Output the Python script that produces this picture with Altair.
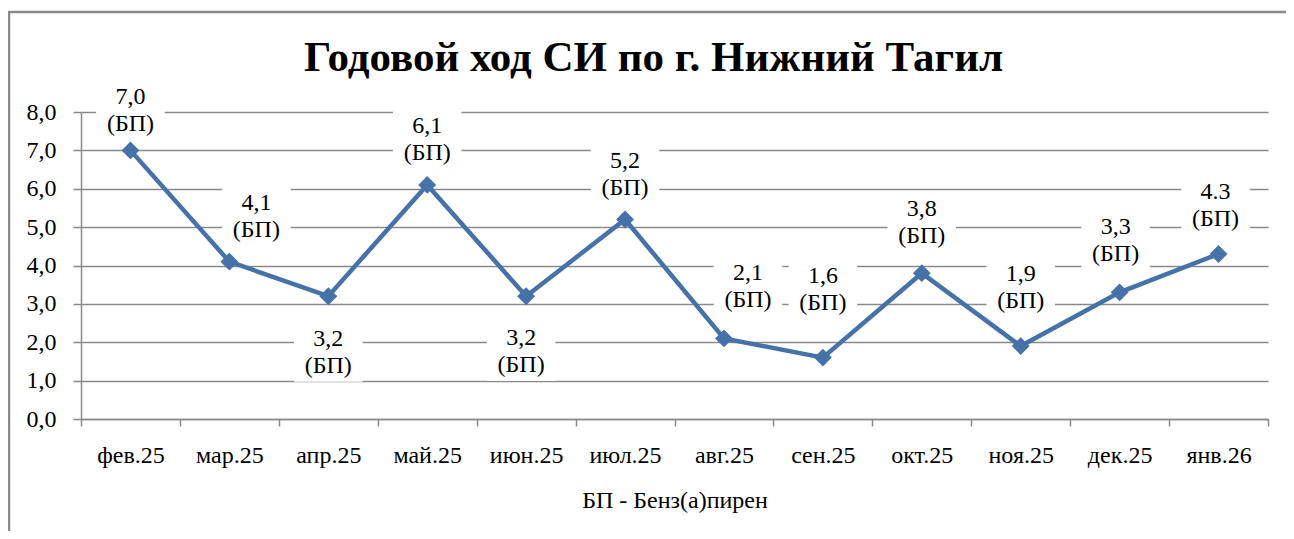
import altair as alt
import pandas as pd

# ---- data ----
months = ["фев.25", "мар.25", "апр.25", "май.25", "июн.25", "июл.25",
          "авг.25", "сен.25", "окт.25", "ноя.25", "дек.25", "янв.26"]
values = [7.0, 4.1, 3.2, 6.1, 3.2, 5.2, 2.1, 1.6, 3.8, 1.9, 3.3, 4.3]
value_labels = ["7,0", "4,1", "3,2", "6,1", "3,2", "5,2",
                "2,1", "1,6", "3,8", "1,9", "3,3", "4.3"]
substance = "БП"
y_ticks = [0, 1, 2, 3, 4, 5, 6, 7, 8]

# ---- label placement (style: pixel offsets of each label from its point) ----
label_dx = [0, 27, 0, 0, -5, 0, 24, 0, 0, 0, -4, -3]
label_dy = [-40, -45, 56, -45, 55, -45, -52, -68, -51, -59, -52, -48]

df = pd.DataFrame({
    "month": months,
    "value": values,
    "label": [f"{v}\n({substance})" for v in value_labels],
})

FONT = "Times New Roman, Liberation Serif, serif"
GRAY = "#8a8a8a"
BLUE = "#4672AA"
LINE_H = 27

x_enc = alt.X(
    "month:N", sort=months,
    scale=alt.Scale(type="band", paddingInner=0, paddingOuter=0),
    axis=alt.Axis(
        title="БП - Бенз(а)пирен", labelAngle=0, tickBand="extent",
        domainColor=GRAY, domainWidth=1.5, tickColor=GRAY, tickWidth=1.5, tickSize=7,
        labelFont=FONT, labelFontSize=24, labelColor="black", labelPadding=17,
        labelOverlap=False,
        titleFont=FONT, titleFontSize=24, titleFontWeight="normal", titleColor="black",
        titlePadding=21, grid=False,
    ),
)
y_enc = alt.Y(
    "value:Q",
    scale=alt.Scale(domain=[0, 8]),
    axis=alt.Axis(
        title=None, values=y_ticks, tickCount=20, labelOverlap=False,
        labelExpr="replace(format(datum.value, '.1f'), '.', ',')",
        domainColor=GRAY, domainWidth=1.5, tickColor=GRAY, tickWidth=1.5, tickSize=8,
        gridColor=GRAY, gridWidth=1.5,
        labelFont=FONT, labelFontSize=24, labelColor="black", labelPadding=17,
    ),
)

base = alt.Chart(df)

line = base.mark_line(color=BLUE, strokeWidth=4.5).encode(x=x_enc, y=y_enc)
points = base.mark_point(shape="diamond", filled=True, color=BLUE, opacity=1, size=320).encode(
    x=x_enc, y=y_enc)

label_layers = []
for m, dx, dy in zip(months, label_dx, label_dy):
    sub = base.transform_filter(alt.datum.month == m)
    box = sub.mark_point(
        shape="M-1,-0.86L1,-0.86L1,0.86L-1,0.86Z", filled=True, fill="white", opacity=1,
        strokeWidth=0, size=4700, xOffset=dx, yOffset=dy,
    ).encode(x=x_enc, y=y_enc)
    txt = sub.mark_text(
        font=FONT, fontSize=24, color="black", lineBreak="\n", lineHeight=LINE_H,
        align="center", baseline="middle", xOffset=dx, yOffset=dy - LINE_H / 2,
    ).encode(x=x_enc, y=y_enc, text="label:N")
    label_layers += [box, txt]

# chart frame (top and left edges, kept inside the canvas)
frame_src = alt.Chart(alt.Data(values=[{}]))
frame_top = frame_src.mark_rule(color=GRAY, strokeWidth=2.5).encode(
    x=alt.value(-73), x2=alt.value(1205), y=alt.value(-100))
frame_left = frame_src.mark_rule(color=GRAY, strokeWidth=2.5).encode(
    x=alt.value(-72), y=alt.value(-101), y2=alt.value(419))

chart = alt.layer(frame_top, frame_left, line, points, *label_layers).properties(
    width=1187, height=307,
    title=alt.TitleParams(
        "Годовой ход СИ по г. Нижний Тагил", font=FONT, fontSize=43, fontWeight="bold",
        color="black", anchor="middle", frame="group", dx=-21, offset=-104,
        baseline="alphabetic",
    ),
    autosize=alt.AutoSizeParams(type="none"),
    padding={"left": 73, "top": 104, "right": 18, "bottom": 112},
).configure_view(stroke=None)

chart.save("out.html", embed_options={"renderer": "svg", "actions": False})
